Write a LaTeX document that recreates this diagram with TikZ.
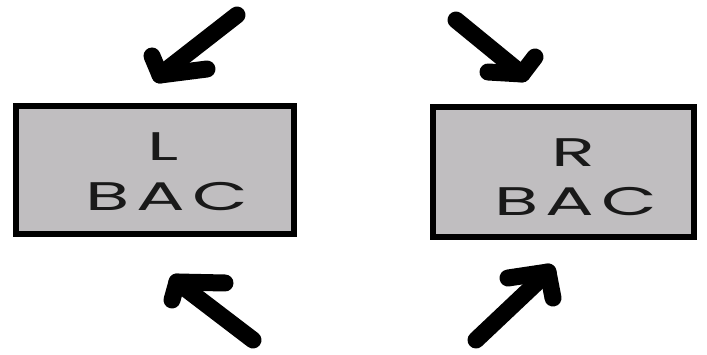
\documentclass[tikz,border=0pt]{standalone}
\usepackage{fontspec}
\newfontfamily\handfont[LetterSpace=10]{Poppins}
\definecolor{boxgray}{RGB}{192,190,192}
\newcommand{\wide}[1]{\scalebox{1.9}[1.05]{#1}}
\tikzset{
  bac/.style={draw=black, line width=6pt, fill=boxgray, inner sep=0pt},
  lbl/.style={font=\handfont\fontsize{38}{38}\selectfont, inner sep=0pt, text=black!90},
  shaft/.style={line width=17pt, line cap=round, line join=round, black},
}
\begin{document}
\begin{tikzpicture}[x=1pt,y=1pt]
\useasboundingbox (0,0) rectangle (707,354);
\node[bac, minimum width=278pt, minimum height=128pt] (L) at (155,184) {};
\node[bac, minimum width=261pt, minimum height=130pt] (R) at (563.5,182) {};
\node[lbl] (Lt) at (163,207) {\wide{L}};
\node[lbl] (Lb) at (167,157) {\wide{BAC}};
\node[lbl] (Rt) at (573,201) {\wide{R}};
\node[lbl] (Rb) at (576,152) {\wide{BAC}};
% top-left arrow
\coordinate (tla) at (237,339);
\coordinate (tlb) at (160,279);
\coordinate (tl1) at (152,298);
\coordinate (tl2) at (207,285);
\draw[shaft] (tla) -- (tlb);
\draw[shaft] (tl1) -- (tlb) -- (tl2);
% top-right arrow
\coordinate (tra) at (456,334);
\coordinate (trb) at (522,280);
\coordinate (tr1) at (535,297);
\coordinate (tr2) at (488,282);
\draw[shaft] (tra) -- (trb);
\draw[shaft] (tr1) -- (trb) -- (tr2);
% bottom-left arrow
\coordinate (bla) at (253,14);
\coordinate (blb) at (177,72);
\coordinate (bl1) at (225,71);
\coordinate (bl2) at (172,54);
\draw[shaft] (bla) -- (blb);
\draw[shaft] (bl1) -- (blb) -- (bl2);
% bottom-right arrow
\coordinate (bra) at (476,14);
\coordinate (brb) at (548,82);
\coordinate (br1) at (508,76);
\coordinate (br2) at (553,56);
\draw[shaft] (bra) -- (brb);
\draw[shaft] (br1) -- (brb) -- (br2);
\end{tikzpicture}
\end{document}
